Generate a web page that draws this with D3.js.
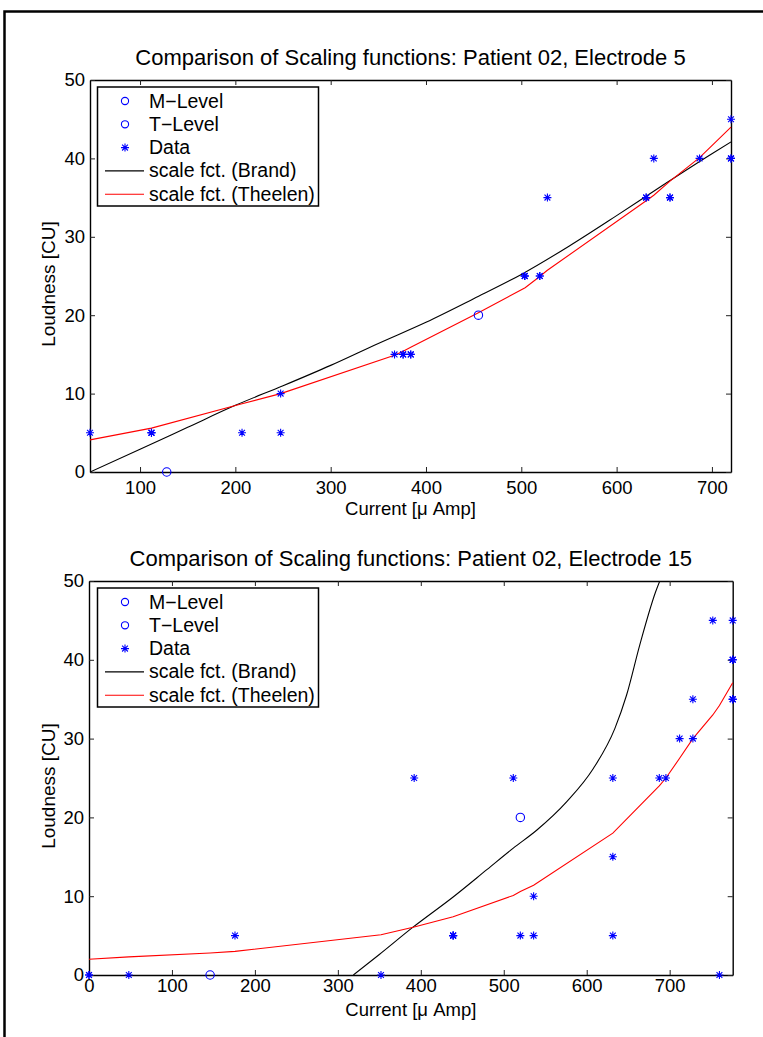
<!DOCTYPE html>
<html>
<head>
<meta charset="utf-8">
<title>Scaling functions</title>
<script src="https://d3js.org/d3.v7.min.js"></script>
<style>
  body { margin: 0; background: #fff; }
  svg text { font-family: "Liberation Sans", Arial, Helvetica, sans-serif; fill: #000; }
</style>
</head>
<body>
<script>
// ---- panel 1: electrode 5 ----
var topTitle = "Comparison of Scaling functions: Patient 02, Electrode 5";
var topXTicks = [100, 200, 300, 400, 500, 600, 700];
var topMLevelX = [455], topMLevelY = [20];
var topTLevelX = [128], topTLevelY = [0];
var topDataX = [47.5, 112, 112, 112, 207, 247.5, 247.5, 367, 376, 376, 384, 384, 503.6, 503.6, 503.6, 519.4, 519.4, 527.4, 631, 631, 639, 656, 656, 687, 720, 720, 720];
var topDataY = [5, 5, 5, 5, 5, 5, 10, 15, 15, 15, 15, 15, 25, 25, 25, 25, 25, 35, 35, 35, 40, 35, 35, 40, 40, 40, 45];
var topBrandX = [47.5, 100, 150, 200, 250, 300, 350, 400, 450, 500, 550, 600, 650, 700, 720];
var topBrandY = [0, 2.9, 5.7, 8.5, 11.0, 13.6, 16.4, 19.1, 22.1, 25.2, 28.8, 32.7, 36.7, 40.6, 42.1];
var topTheelenX = [47.5, 112, 207, 247.5, 367, 376, 384, 455, 504, 519, 527, 631, 639, 656, 687, 720];
var topTheelenY = [4.1, 5.6, 8.7, 10.0, 14.9, 15.4, 15.9, 20.3, 23.5, 24.9, 25.7, 34.6, 35.3, 37.1, 40.1, 44.0];

// ---- panel 2: electrode 15 ----
var botTitle = "Comparison of Scaling functions: Patient 02, Electrode 15";
var botXTicks = [0, 100, 200, 300, 400, 500, 600, 700];
var botMLevelX = [520], botMLevelY = [20];
var botTLevelX = [146], botTLevelY = [0];
var botDataX = [0, 0, 48, 176, 352, 392, 439, 439, 439, 511.5, 520, 536, 536, 631.5, 631.5, 631.5, 687.5, 695.5, 712, 728, 728, 752, 776, 776, 776, 776, 776, 776, 776, 760];
var botDataY = [0, 0, 0, 5, 0, 25, 5, 5, 5, 25, 5, 5, 10, 5, 15, 25, 25, 25, 30, 30, 35, 45, 45, 40, 40, 40, 35, 35, 35, 0];
var botBrandX = [318.7, 350, 391, 439, 480, 511.5, 540, 576, 608, 634, 648, 664, 683, 692];
var botBrandY = [0, 2.6, 6.1, 9.9, 13.4, 16.1, 18.4, 22.0, 26.2, 31.3, 35.5, 41.9, 48.6, 51];
var botTheelenX = [0, 48, 146, 176, 352, 392, 439, 511.5, 520, 536, 631.5, 687.5, 695.5, 712, 728, 752, 760, 776];
var botTheelenY = [2.0, 2.3, 2.8, 3.0, 5.1, 6.1, 7.4, 10.1, 10.6, 11.4, 18.0, 24.0, 25.0, 27.5, 30.0, 33.0, 34.2, 37.1];

var yTicks = [0, 10, 20, 30, 40, 50];
var legendLabels = ["M\u2212Level", "T\u2212Level", "Data", "scale fct. (Brand)", "scale fct. (Theelen)"];

var width = 763, height = 1037;
var svg = d3.select("body").append("svg")
  .attr("width", width)
  .attr("height", height);

// outer frame
svg.append("path")
  .attr("d", "M4.5,1037V11.5H763")
  .attr("fill", "none")
  .attr("stroke", "#000")
  .attr("stroke-width", 2.5);

var blue = "#0000ff", red = "#ff0000";
var starPath = "M-4,0H4M0,-4V4M-2.9,-2.9L2.9,2.9M-2.9,2.9L2.9,-2.9";

function zip(xs, ys) {
  return xs.map(function(v, i) { return [v, ys[i]]; });
}

function panel(p) {
  var x = d3.scaleLinear().domain(p.xDomain).range([p.left, p.right]);
  var y = d3.scaleLinear().domain([0, 50]).range([p.bottom, p.top]);
  var g = svg.append("g");

  var clipId = "clip" + p.id;
  svg.append("clipPath").attr("id", clipId)
    .append("rect")
    .attr("x", p.left).attr("y", p.top)
    .attr("width", p.right - p.left).attr("height", p.bottom - p.top);

  // axes, ticks pointing in
  g.append("g").attr("transform", "translate(0," + p.bottom + ")")
    .call(d3.axisBottom(x).tickValues(p.xTicks).tickSizeInner(-5).tickSizeOuter(0).tickPadding(p.tickPad));
  g.append("g").attr("transform", "translate(0," + p.top + ")")
    .call(d3.axisTop(x).tickValues(p.xTicks).tickSizeInner(-5).tickSizeOuter(0).tickFormat(""));
  g.append("g").attr("transform", "translate(" + p.left + ",0)")
    .call(d3.axisLeft(y).tickValues(yTicks).tickSizeInner(-5).tickSizeOuter(0).tickPadding(5));
  g.append("g").attr("transform", "translate(" + p.right + ",0)")
    .call(d3.axisRight(y).tickValues(yTicks).tickSizeInner(-5).tickSizeOuter(0).tickFormat(""));
  g.selectAll(".domain").attr("stroke", "#000").attr("stroke-width", 1.4);
  g.selectAll(".tick line").attr("stroke", "#222").attr("stroke-width", 1);
  g.selectAll(".tick text").attr("font-size", 18.5).attr("font-family", null);

  // curves
  var line = d3.line().x(function(d) { return x(d[0]); }).y(function(d) { return y(d[1]); });
  g.append("path")
    .datum(zip(p.brandX, p.brandY))
    .attr("clip-path", "url(#" + clipId + ")")
    .attr("fill", "none").attr("stroke", "#000").attr("stroke-width", 1.1)
    .attr("d", line.curve(d3.curveMonotoneX));
  g.append("path")
    .datum(zip(p.theelenX, p.theelenY))
    .attr("fill", "none").attr("stroke", red).attr("stroke-width", 1.1)
    .attr("d", line.curve(d3.curveLinear));

  // markers
  g.selectAll(".star").data(zip(p.dataX, p.dataY)).enter().append("path")
    .attr("class", "star")
    .attr("transform", function(d) { return "translate(" + x(d[0]) + "," + y(d[1]) + ")"; })
    .attr("d", starPath)
    .attr("fill", "none").attr("stroke", blue).attr("stroke-width", 1.1);
  g.selectAll(".lev").data(zip(p.mX, p.mY).concat(zip(p.tX, p.tY))).enter().append("circle")
    .attr("class", "lev")
    .attr("cx", function(d) { return x(d[0]); })
    .attr("cy", function(d) { return y(d[1]); })
    .attr("r", 4.2)
    .attr("fill", "none").attr("stroke", blue).attr("stroke-width", 1.1);

  // title and labels
  g.append("text")
    .attr("x", (p.left + p.right) / 2).attr("y", p.top - 15)
    .attr("text-anchor", "middle").attr("font-size", 22)
    .text(p.title);
  g.append("text")
    .attr("x", (p.left + p.right) / 2).attr("y", p.bottom + p.xLabelOff)
    .attr("text-anchor", "middle").attr("font-size", 18.5)
    .text("Current [\u03bc Amp]");
  g.append("text")
    .attr("transform", "translate(55," + ((p.top + p.bottom) / 2 + 8) + ") rotate(-90)")
    .attr("text-anchor", "middle").attr("font-size", 19)
    .text("Loudness [CU]");

  // legend
  var lg = g.append("g");
  lg.append("rect")
    .attr("x", 97.5).attr("y", p.top + 7)
    .attr("width", 221).attr("height", 119)
    .attr("fill", "#fff").attr("stroke", "#000").attr("stroke-width", 1.5);
  var rows = lg.selectAll(".row").data(legendLabels).enter().append("g")
    .attr("transform", function(d, i) { return "translate(0," + (p.top + 21 + i * 23.3) + ")"; });
  rows.append("text").attr("x", 149).attr("y", 6.5).attr("font-size", 19.5).text(function(d) { return d; });
  rows.filter(function(d, i) { return i < 2; }).append("circle")
    .attr("cx", 125).attr("cy", 0).attr("r", 3.6)
    .attr("fill", "none").attr("stroke", blue).attr("stroke-width", 1.1);
  rows.filter(function(d, i) { return i === 2; }).append("path")
    .attr("transform", "translate(125,0)").attr("d", starPath)
    .attr("fill", "none").attr("stroke", blue).attr("stroke-width", 1.1);
  rows.filter(function(d, i) { return i > 2; }).append("line")
    .attr("x1", 105).attr("x2", 144)
    .attr("stroke", function(d, i) { return i === 0 ? "#000" : red; })
    .attr("stroke-width", 1.1);
}

panel({
  id: 1, title: topTitle,
  left: 90, right: 731, top: 80, bottom: 472,
  xDomain: [47.5, 720], xTicks: topXTicks, tickPad: 8.5, xLabelOff: 43,
  dataX: topDataX, dataY: topDataY, mX: topMLevelX, mY: topMLevelY, tX: topTLevelX, tY: topTLevelY,
  brandX: topBrandX, brandY: topBrandY, theelenX: topTheelenX, theelenY: topTheelenY
});
panel({
  id: 2, title: botTitle,
  left: 89, right: 732.7, top: 581, bottom: 975,
  xDomain: [0, 776], xTicks: botXTicks, tickPad: 3.5, xLabelOff: 41,
  dataX: botDataX, dataY: botDataY, mX: botMLevelX, mY: botMLevelY, tX: botTLevelX, tY: botTLevelY,
  brandX: botBrandX, brandY: botBrandY, theelenX: botTheelenX, theelenY: botTheelenY
});
</script>
</body>
</html>
